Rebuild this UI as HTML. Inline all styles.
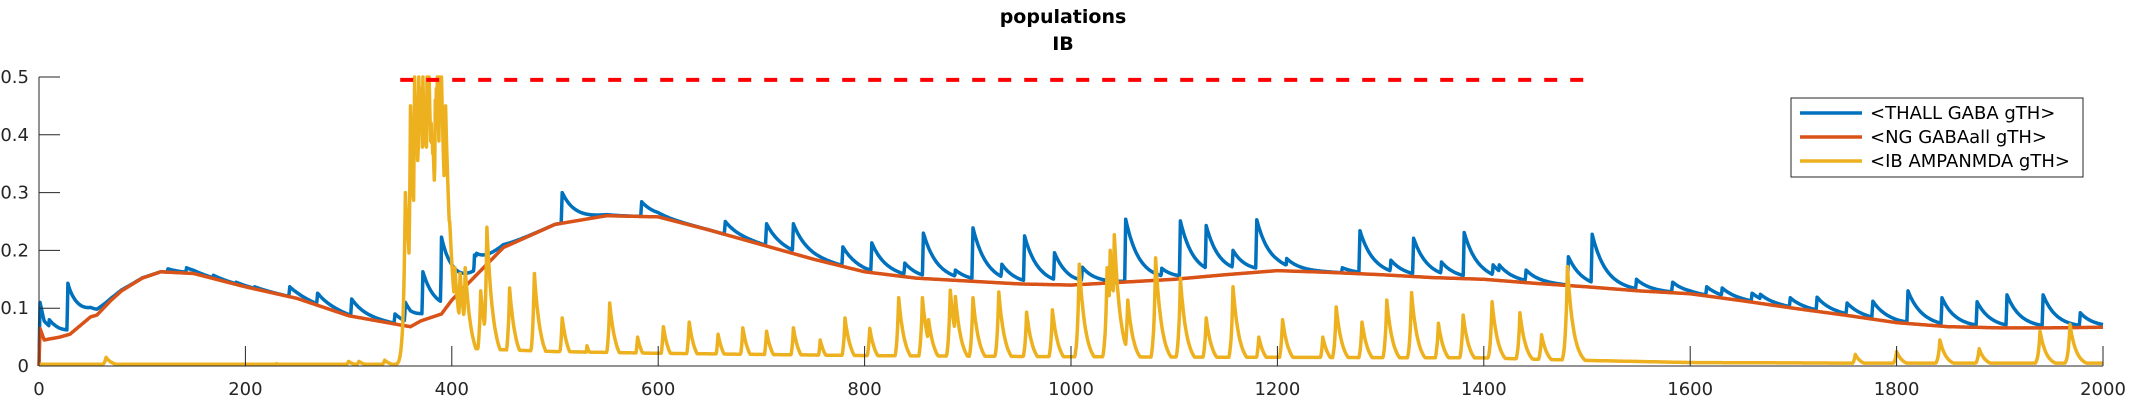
<!DOCTYPE html>
<html><head><meta charset="utf-8"><style>
html,body{margin:0;padding:0;background:#fff;}
svg{display:block;}
text{font-family:"DejaVu Sans","Liberation Sans",sans-serif;fill:#262626;}
</style></head><body>
<svg id="chart" width="2133" height="400" xmlns="http://www.w3.org/2000/svg">
<text x="1063" y="23" text-anchor="middle" font-size="19" font-weight="bold" style="fill:#000">populations</text>
<text x="1063" y="50" text-anchor="middle" font-size="19" font-weight="bold" style="fill:#000">IB</text>
<g id="plot"></g>
<g id="axes"></g>
<g id="legend"></g>
</svg>
<script>
// ---- data ----
const xTicks = [0,200,400,600,800,1000,1200,1400,1600,1800,2000];
const yTicks = [0,0.1,0.2,0.3,0.4,0.5];
const yTickLabels = ["0","0.1","0.2","0.3","0.4","0.5"];
// NG GABAall (smooth baseline) keypoints
const redT = [0,1,5,20,30,40,50,56,70,80,100,118,150,200,250,300,350,360,370,390,400,450,500,550,600,650,700,750,800,850,900,950,1000,1050,1100,1150,1200,1250,1300,1350,1400,1450,1500,1550,1600,1650,1700,1750,1800,1850,1900,1950,2000];
const redV = [0.0,0.065,0.045,0.05,0.055,0.07,0.085,0.088,0.114,0.13,0.152,0.163,0.16,0.137,0.117,0.087,0.071,0.068,0.078,0.09,0.114,0.205,0.245,0.26,0.258,0.235,0.21,0.185,0.163,0.152,0.147,0.142,0.14,0.145,0.15,0.158,0.165,0.162,0.158,0.153,0.15,0.143,0.137,0.13,0.125,0.113,0.1,0.088,0.075,0.068,0.066,0.066,0.067];
// THALL GABA spikes (time, peak value)
const blueSpikeT = [1,10,28,36,42,55,125,143,169,191,209,243,270,303,345,355,372,390,422,424,507,584,665,705,731,779,807,839,857,888,905,933,955,984,1011,1053,1088,1106,1131,1157,1180,1209,1263,1280,1310,1332,1359,1381,1409,1415,1441,1482,1505,1548,1583,1616,1631,1660,1668,1697,1723,1752,1777,1811,1844,1878,1907,1942,1978];
const blueSpikeV = [0.11,0.08,0.143,0.1,0.095,0.098,0.168,0.17,0.157,0.145,0.137,0.137,0.126,0.116,0.09,0.11,0.163,0.223,0.192,0.195,0.3,0.284,0.25,0.246,0.246,0.206,0.213,0.178,0.23,0.166,0.239,0.176,0.225,0.196,0.171,0.254,0.169,0.251,0.243,0.2,0.253,0.186,0.17,0.234,0.183,0.221,0.18,0.231,0.175,0.175,0.166,0.189,0.228,0.15,0.145,0.137,0.135,0.126,0.124,0.118,0.119,0.109,0.112,0.13,0.118,0.111,0.123,0.123,0.092];
// IB AMPANMDA baseline + spikes
const yelBaseT = [0,350,352,420,500,600,800,1000,1200,1400,1490,1600,1750,2000];
const yelBaseV = [0.003,0.003,0.025,0.03,0.025,0.022,0.018,0.016,0.015,0.014,0.01,0.006,0.005,0.005];
const yelSpikeT = [65,230,300,310,335,353,355,357,358,360,361,362,364,365,366,368,369,370,372,373,374,376,377,378,380,381,382,384,385,386,388,389,390,392,393,394,396,398,400,403,406,408,411,413,416,428,434,456,480,507,531,553,580,605,630,658,682,705,731,757,781,805,833,856,862,883,888,905,930,957,982,1008,1035,1038,1042,1055,1082,1106,1131,1157,1182,1205,1244,1257,1282,1306,1330,1356,1380,1408,1435,1456,1481,1760,1800,1842,1880,1939,1968];
const yelSpikeV = [0.015,0.004,0.008,0.008,0.01,0.1,0.3,0.25,0.2,0.45,0.35,0.3,0.5,0.45,0.42,0.5,0.47,0.48,0.5,0.46,0.45,0.5,0.48,0.5,0.42,0.4,0.38,0.46,0.48,0.5,0.5,0.49,0.5,0.3,0.4,0.45,0.15,0.25,0.12,0.17,0.06,0.16,0.08,0.17,0.07,0.13,0.24,0.135,0.16,0.083,0.035,0.109,0.05,0.068,0.076,0.055,0.066,0.06,0.066,0.045,0.083,0.065,0.118,0.118,0.08,0.131,0.12,0.118,0.128,0.093,0.097,0.176,0.17,0.2,0.227,0.114,0.187,0.152,0.083,0.137,0.05,0.08,0.05,0.102,0.076,0.114,0.127,0.074,0.088,0.111,0.092,0.054,0.172,0.02,0.025,0.045,0.03,0.06,0.072];
const threshT = [350,1500];
const threshV = 0.495;

// ---- axes ----
const X0=39, X1=2103, Y0=366, Y1=77;
const xs = t => X0 + (t/2000)*(X1-X0);
const ys = v => Y0 - (Math.min(Math.max(v,0),0.5)/0.5)*(Y0-Y1);
const NS="http://www.w3.org/2000/svg";
function el(tag, attrs, parent){const e=document.createElementNS(NS,tag);for(const k in attrs)e.setAttribute(k,attrs[k]);parent.appendChild(e);return e;}
function interp(T,V,t){if(t<=T[0])return V[0];for(let i=1;i<T.length;i++){if(t<=T[i]){const f=(t-T[i-1])/(T[i]-T[i-1]);return V[i-1]+f*(V[i]-V[i-1]);}}return V[V.length-1];}

const plot=document.getElementById('plot'), axes=document.getElementById('axes');
const step=0.5, N=4000;
let rp=[],bp=[],yp=[];
for(let i=0;i<=N;i++){const t=i*step;
  const r=interp(redT,redV,t);
  rp.push(xs(t).toFixed(1)+','+ys(r).toFixed(1));
  let b=r;
  for(let k=0;k<blueSpikeT.length;k++){const d=t-blueSpikeT[k];if(d>=-1&&d<90){const base=interp(redT,redV,blueSpikeT[k]);const amp=blueSpikeV[k]-base;const val=d<0?r+amp*(1+d):r+amp*Math.exp(-d/13);if(val>b)b=val;}}
  bp.push(xs(t).toFixed(1)+','+ys(b).toFixed(1));
  let y=interp(yelBaseT,yelBaseV,t);
  for(let k=0;k<yelSpikeT.length;k++){const d=t-yelSpikeT[k];if(d>-10&&d<50){const val=d<0?yelSpikeV[k]*Math.exp(d/1.8):yelSpikeV[k]*Math.exp(-d/6);if(val>y)y=val;}}
  yp.push(xs(t).toFixed(1)+','+ys(y).toFixed(1));
}
const blueLine=el('polyline',{points:bp.join(' '),fill:'none',stroke:'#0072BD','stroke-width':3.5,'stroke-linejoin':'round'},plot);


const redLine=el('polyline',{points:rp.join(' '),fill:'none',stroke:'#D95319','stroke-width':3.5,'stroke-linejoin':'round'},plot);


const yelLine=el('polyline',{points:yp.join(' '),fill:'none',stroke:'#EDB120','stroke-width':3.5,'stroke-linejoin':'round'},plot);


const th=el('line',{x1:xs(threshT[0]),x2:xs(threshT[1]),y1:ys(threshV),y2:ys(threshV),stroke:'#FF0000','stroke-width':4,'stroke-dasharray':'13 13'},plot);



const ya=el('line',{x1:X0,x2:X0,y1:Y1,y2:Y0,stroke:'#262626','stroke-width':1},axes);


const xa=el('line',{x1:X0,x2:X1,y1:Y0,y2:Y0,stroke:'#262626','stroke-width':1},axes);


yTicks.forEach((v,i)=>{
  const tk=el('line',{x1:X0,x2:X0+21,y1:ys(v),y2:ys(v),stroke:'#262626','stroke-width':1},axes);
  
  
  const tx=el('text',{x:29,y:ys(v)+6,'text-anchor':'end','font-size':18},axes);
  tx.textContent=yTickLabels[i];
  
  
});
xTicks.forEach(t=>{
  const tk=el('line',{x1:xs(t),x2:xs(t),y1:Y0,y2:Y0-20,stroke:'#262626','stroke-width':1},axes);
  
  
  const tx=el('text',{x:xs(t),y:395,'text-anchor':'middle','font-size':18},axes);
  tx.textContent=String(t);
  
  
});

const lg=document.getElementById('legend');
const box=el('rect',{x:1791,y:98,width:292,height:79,fill:'#fff',stroke:'#262626','stroke-width':1},lg);


const legNames=['<THALL GABA gTH>','<NG GABAall gTH>','<IB AMPANMDA gTH>'];
const legColors=['#0072BD','#D95319','#EDB120'];
legNames.forEach((n,i)=>{
  const y=113+i*24;
  const ln=el('line',{x1:1800,x2:1862,y1:y,y2:y,stroke:legColors[i],'stroke-width':3.5},lg);
  
  
  const tx=el('text',{x:1870,y:y+6,'font-size':18,style:'fill:#000'},lg);
  tx.textContent=n;
  
  
});
</script>
</body></html>
